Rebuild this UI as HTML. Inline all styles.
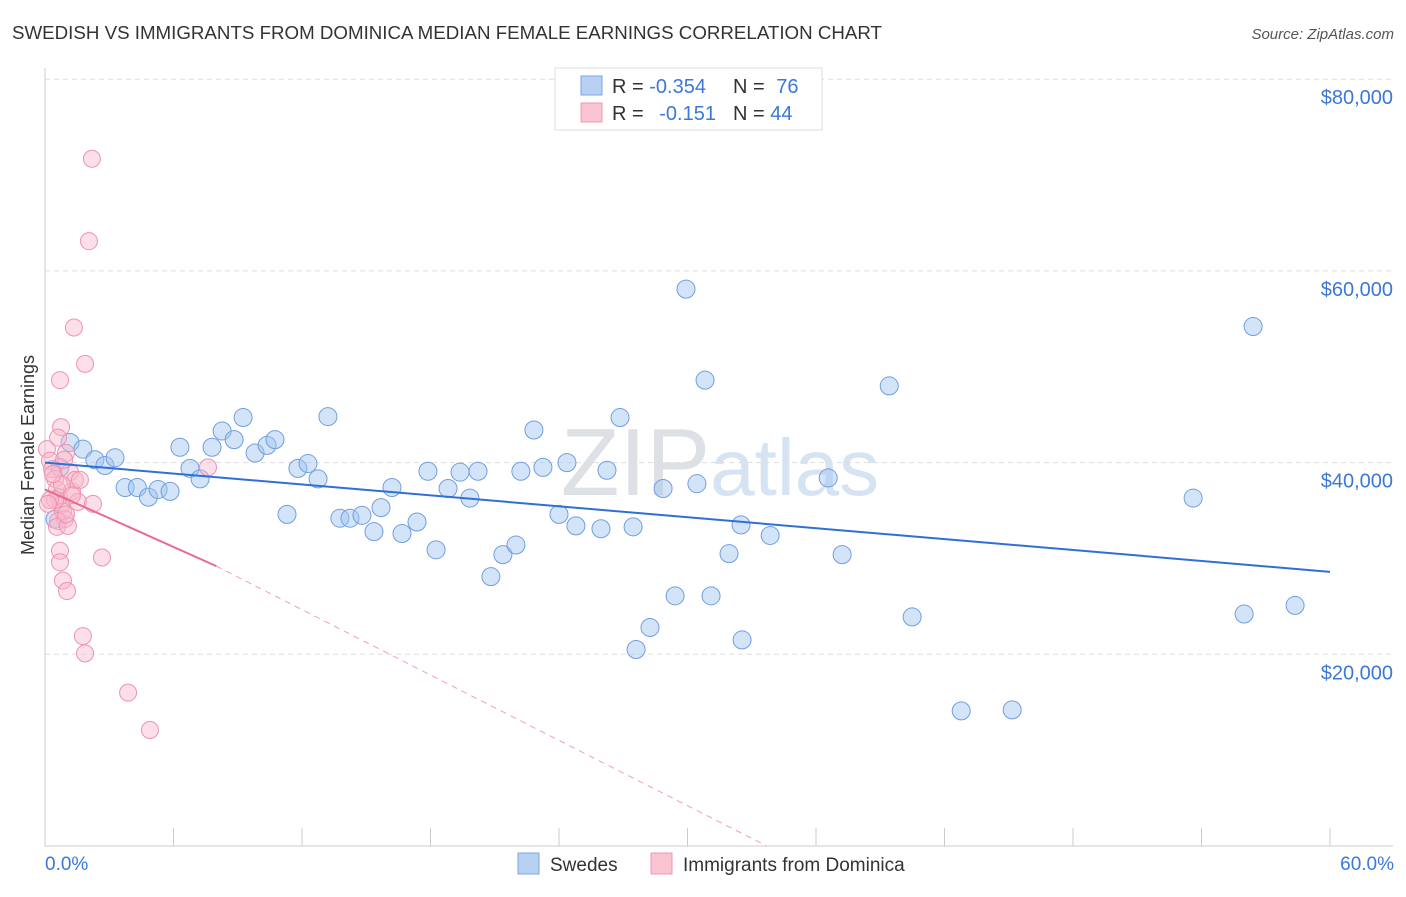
<!DOCTYPE html>
<html><head><meta charset="utf-8">
<style>
body{margin:0;background:#fff;font-family:"Liberation Sans",sans-serif;}
svg text{font-family:"Liberation Sans",sans-serif;}
</style></head>
<body>
<svg id="chart" width="1406" height="892">
<text x="12" y="39" font-size="18" fill="#333" textLength="870" lengthAdjust="spacingAndGlyphs">SWEDISH VS IMMIGRANTS FROM DOMINICA MEDIAN FEMALE EARNINGS CORRELATION CHART</text>
<text x="1394" y="39" font-size="15" fill="#555" font-style="italic" text-anchor="end">Source: ZipAtlas.com</text>
<text x="720" y="495" font-size="96" fill="#e6e9ee" text-anchor="middle" font-family="Liberation Serif"><tspan fill="#dde0e4">ZIP</tspan><tspan fill="#d6e3f3" font-family="Liberation Sans" font-size="80">atlas</tspan></text>
<g id="grid"></g>
<g id="axes"></g>
<g id="marks"></g>
<text x="34" y="455" font-size="18" fill="#333" text-anchor="middle" transform="rotate(-90 34 455)">Median Female Earnings</text>
<text x="45" y="870" font-size="19" fill="#3b78d8">0.0%</text>
<text x="1394" y="870" font-size="19" fill="#3b78d8" text-anchor="end">60.0%</text>
<g>
<rect x="555" y="68" width="267" height="62" fill="#fff" stroke="#ddd"/>
<rect x="581" y="76" width="21" height="19" fill="#b8d1f3" stroke="#7aa6e6"/>
<rect x="581" y="103" width="21" height="19" fill="#f9c3d2" stroke="#ee9ab3"/>
<text x="612" y="93" font-size="20" fill="#333">R = <tspan fill="#3b78d8">-0.354</tspan></text>
<text x="733" y="93" font-size="20" fill="#333">N = <tspan fill="#3b78d8" dx="6">76</tspan></text>
<text x="612" y="120" font-size="20" fill="#333">R = <tspan fill="#3b78d8" dx="10">-0.151</tspan></text>
<text x="733" y="120" font-size="20" fill="#333">N = <tspan fill="#3b78d8">44</tspan></text>
</g>
<g>
<rect x="518" y="853" width="21" height="21" fill="#b8d1f3" stroke="#7aa6e6"/>
<text x="550" y="871" font-size="19" fill="#333">Swedes</text>
<rect x="651" y="853" width="21" height="21" fill="#f9c3d2" stroke="#ee9ab3"/>
<text x="683" y="871" font-size="19" fill="#333">Immigrants from Dominica</text>
</g>
</svg>
<script>
const yTicks=[20000,40000,60000,80000];
const yTickLabels=["$20,000","$40,000","$60,000","$80,000"];
const xTicks=[0,6,12,18,24,30,36,42,48,54,60];
const swedesX=[0.47,0.7,1.17,1.77,2.33,2.8,3.27,3.74,4.31,4.83,5.28,5.84,6.3,6.77,7.24,7.8,8.27,8.83,9.25,9.81,10.37,10.74,11.3,11.81,12.28,12.75,13.21,13.77,14.24,14.8,15.36,15.69,16.2,16.67,17.37,18.26,17.88,18.82,19.38,19.84,20.22,20.82,21.38,21.99,22.22,22.83,23.25,24,24.37,24.79,25.96,26.24,26.85,27.46,27.6,28.25,28.86,29.42,29.93,30.44,30.82,31.1,31.94,32.5,32.55,33.86,36.57,37.22,39.42,40.49,42.78,45.16,53.61,55.99,56.41,58.37];
const swedesY=[34100,39500,42100,41400,40300,39700,40500,37400,37400,36400,37200,37000,41600,39400,38300,41600,43300,42400,44700,41000,41800,42400,34600,39400,39900,38300,44800,34200,34200,34500,32800,35300,37400,32600,33800,30900,39100,37300,39000,36300,39100,28100,30400,31400,39100,43400,39500,34600,40000,33400,33100,39200,44700,33300,20500,22800,37300,26100,58100,37800,48600,26100,30500,33500,21500,32400,38400,30400,48000,23900,14100,14200,36300,24200,54200,25100];
const domX=[0.09,0.23,0.33,0.47,0.56,0.65,0.75,0.84,0.93,0.61,0.7,0.7,0.84,1.03,0.7,0.75,0.98,1.17,1.26,1.4,1.54,1.63,1.35,1.87,2.05,2.19,2.24,2.66,1.77,1.87,3.88,4.9,7.61,0.47,0.56,1.07,0.79,0.23,0.37,0.89,1.26,0.98,0.61,0.14];
const domY=[41400,40200,39300,38300,37200,36400,35600,34900,34100,33900,30800,29600,27700,26600,48600,43700,41000,39000,37000,38200,35900,38200,54100,50300,63100,71700,35700,30100,21900,20100,16000,12100,39500,36100,33300,33400,37700,36100,38800,40300,36600,34600,42600,35700];
const trendBlue=[0,40000,60,28600];
const trendPink=[0,37200,8,29200,33.7,0];
const X0=45,X1=1330,Y0=846,Yk=191.7/20000;
const sx=v=>X0+(v/60)*(X1-X0), sy=v=>Y0-v*Yk;
const NS="http://www.w3.org/2000/svg";
function mk(t,a,p){const e=document.createElementNS(NS,t);for(const k in a)e.setAttribute(k,a[k]);p.appendChild(e);return e;}
const grid=document.getElementById('grid'),axes=document.getElementById('axes'),marks=document.getElementById('marks');
yTicks.forEach((v,i)=>{
 const l=mk('line',{x1:X0,x2:1393,y1:sy(v),y2:sy(v),stroke:'#ddd','stroke-dasharray':'5,4'},grid);
 
 
 const t=mk('text',{x:1393,y:sy(v)+25,'font-size':20,fill:'#3b78d8','text-anchor':'end'},axes);
 t.textContent=yTickLabels[i];
 
 
});
const ax=mk('line',{x1:X0,x2:X0,y1:68,y2:Y0,stroke:'#ccc'},axes);


const bx=mk('line',{x1:X0,x2:1393,y1:Y0,y2:Y0,stroke:'#ccc'},axes);


xTicks.forEach(v=>{
 const t=mk('line',{x1:sx(v),x2:sx(v),y1:828,y2:Y0,stroke:'#ccc'},axes);
 
 
});
swedesX.forEach((x,i)=>{
 const c=mk('circle',{cx:sx(x),cy:sy(swedesY[i]),r:9,fill:'rgba(160,196,240,0.45)',stroke:'#6f9fe0','stroke-width':1},marks);
 
 
});
domX.forEach((x,i)=>{
 const c=mk('circle',{cx:sx(x),cy:sy(domY[i]),r:8.5,fill:'rgba(248,184,204,0.45)',stroke:'#ee93b0','stroke-width':1},marks);
 
 
});
const tb=mk('line',{x1:sx(trendBlue[0]),y1:sy(trendBlue[1]),x2:sx(trendBlue[2]),y2:sy(trendBlue[3]),stroke:'#2f6fd6','stroke-width':2},marks);


const tp=mk('line',{x1:sx(trendPink[0]),y1:sy(trendPink[1]),x2:sx(trendPink[2]),y2:sy(trendPink[3]),stroke:'#e86a92','stroke-width':2},marks);


const td=mk('line',{x1:sx(trendPink[2]),y1:sy(trendPink[3]),x2:sx(trendPink[4]),y2:sy(trendPink[5]),stroke:'#eea0b8','stroke-width':1,'stroke-dasharray':'6,5'},marks);


</script>
</body></html>
